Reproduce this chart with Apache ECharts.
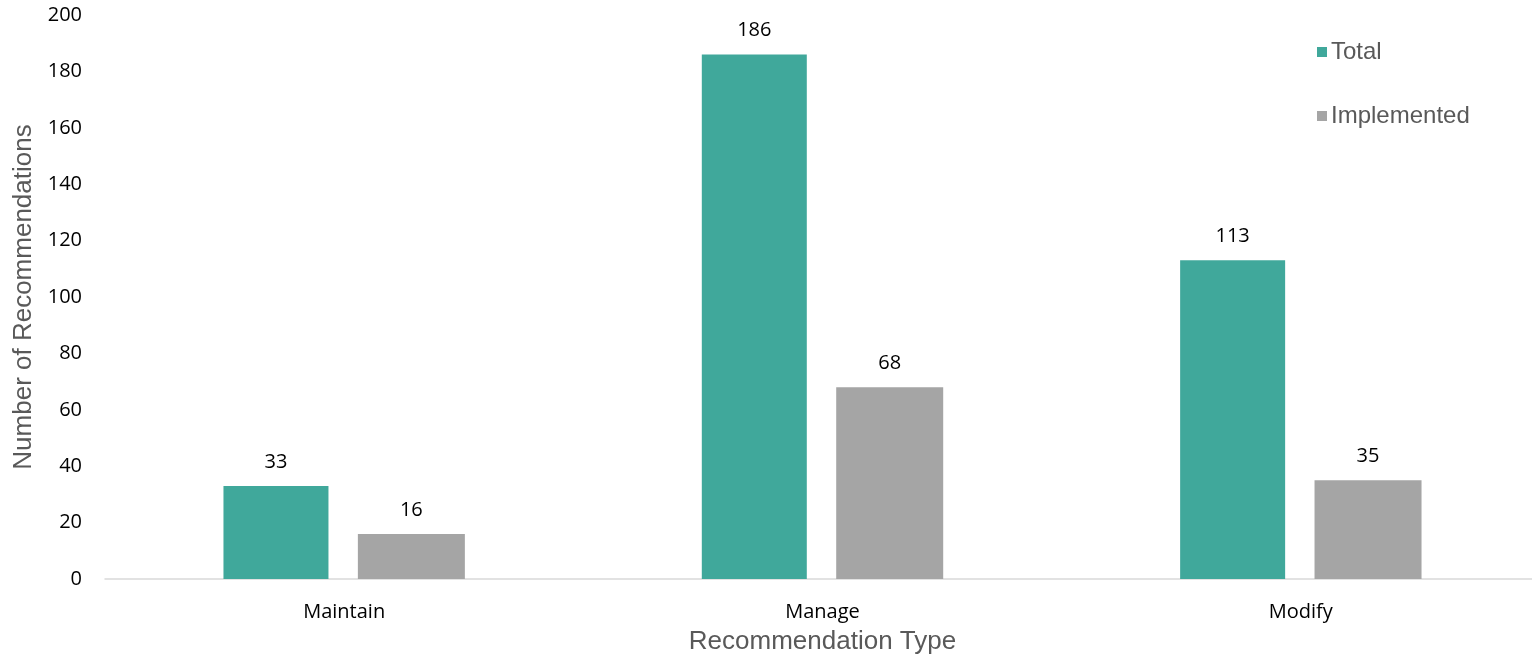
<!DOCTYPE html>
<html>
<head>
<meta charset="utf-8">
<script src="https://cdn.jsdelivr.net/npm/echarts@6/dist/echarts.min.js"></script>
<style>
  html, body { margin: 0; padding: 0; background: #fff; }
  #chart { width: 1532px; height: 663px; }
</style>
</head>
<body>
<div id="chart"></div>
<script>
// Recommendation counts by type
const categories = ['Maintain', 'Manage', 'Modify'];
const totalValues = [33, 186, 113];
const implementedValues = [16, 68, 35];
const yTicks = [0, 20, 40, 60, 80, 100, 120, 140, 160, 180, 200];

const labelFont = '"Open Sans", "Noto Sans", sans-serif';
const titleFont = '"Liberation Sans", Arial, sans-serif';

const chart = echarts.init(document.getElementById('chart'));
chart.setOption({
  animation: false,
  backgroundColor: '#ffffff',
  grid: { left: 105, top: 15, width: 1435, bottom: 84, containLabel: false, outerBoundsMode: 'none' },
  legend: {
    orient: 'vertical',
    left: 1312,
    top: 35,
    itemWidth: 10,
    itemHeight: 10,
    itemGap: 40,
    icon: 'rect',
    textStyle: { fontFamily: titleFont, fontSize: 24, color: '#595959', padding: [0, 0, 0, -1] },
    data: ['Total', 'Implemented']
  },
  xAxis: {
    type: 'category',
    data: categories,
    name: 'Recommendation Type',
    nameLocation: 'middle',
    nameGap: 50,
    nameTextStyle: { fontFamily: titleFont, fontSize: 26, color: '#595959' },
    axisLine: { show: true, lineStyle: { color: '#d9d9d9', width: 1.5 } },
    axisTick: { show: false },
    axisLabel: { fontFamily: labelFont, fontSize: 20, color: '#000000', margin: 23 }
  },
  yAxis: {
    type: 'value',
    min: yTicks[0],
    max: yTicks[yTicks.length - 1],
    interval: 20,
    name: 'Number of Recommendations',
    nameLocation: 'middle',
    nameGap: 60,
    nameTextStyle: { fontFamily: titleFont, fontSize: 26, color: '#595959' },
    axisLine: { show: false },
    axisTick: { show: false },
    splitLine: { show: false },
    axisLabel: { fontFamily: labelFont, fontSize: 20, color: '#000000', margin: 23 }
  },
  series: [
    {
      name: 'Total',
      type: 'bar',
      data: totalValues,
      barWidth: 105,
      barGap: '28%',
      itemStyle: { color: '#40a89b' },
      label: { show: true, position: 'top', distance: 14, fontFamily: labelFont, fontSize: 20, color: '#000000' }
    },
    {
      name: 'Implemented',
      type: 'bar',
      data: implementedValues,
      barWidth: 107,
      itemStyle: { color: '#a5a5a5' },
      label: { show: true, position: 'top', distance: 14, fontFamily: labelFont, fontSize: 20, color: '#000000' }
    }
  ]
});
</script>
</body>
</html>
